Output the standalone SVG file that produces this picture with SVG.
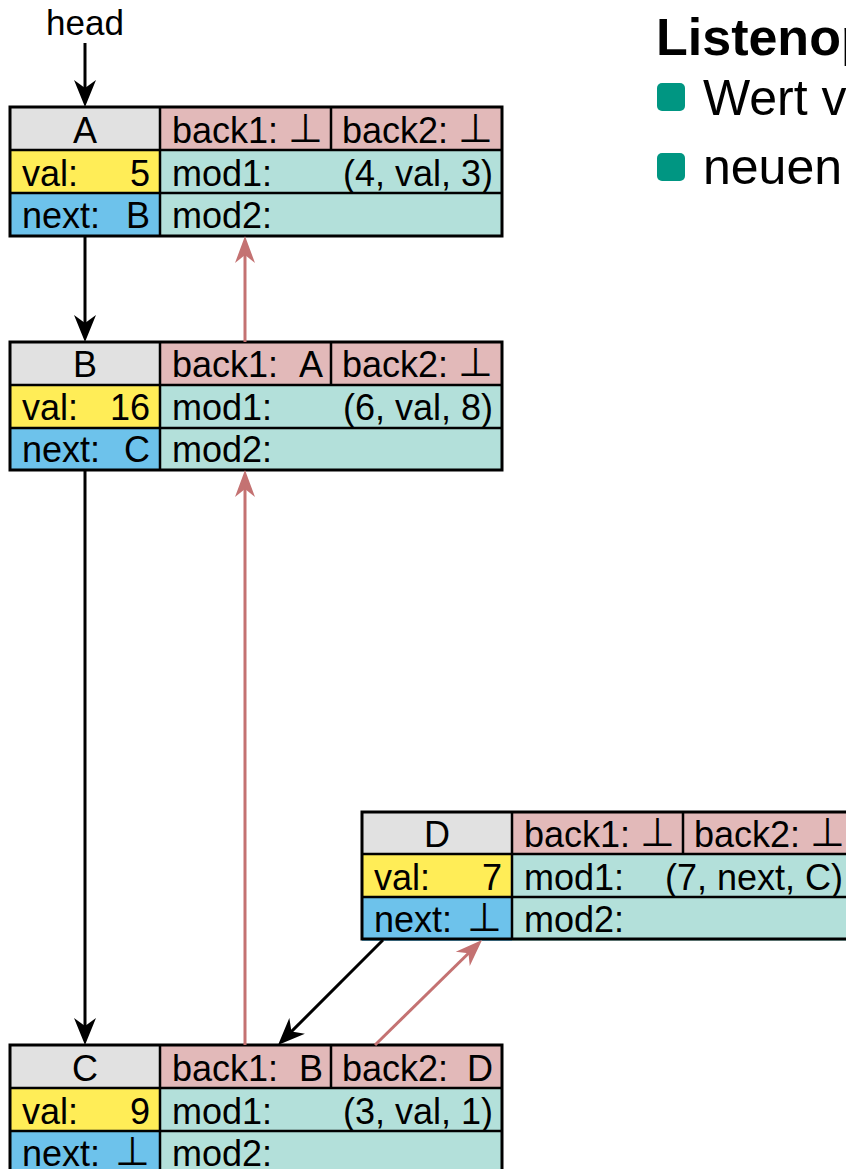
<svg xmlns="http://www.w3.org/2000/svg" width="846" height="1169" viewBox="0 0 846 1169">
<style>
text{font-family:"Liberation Sans","DejaVu Sans",Arial,sans-serif;font-size:36px;fill:#000}
.e{text-anchor:end}
.m{text-anchor:middle}
.bot{font-family:"DejaVu Sans",sans-serif;font-size:40px}
.hd{fill:#e1e1e1}
.bk{fill:#e2b9b9}
.vl{fill:#ffed57}
.nx{fill:#6dc2eb}
.md{fill:#b3e0da}
.dv{stroke:#000;stroke-width:2.5;fill:none}
.ob{stroke:#000;stroke-width:3;fill:none}
.cb{stroke:#000;stroke-width:3;fill:none;marker-end:url(#ab)}
.cr{stroke:#c47272;stroke-width:3;fill:none;marker-end:url(#ar)}
.title{font-size:52px;font-weight:bold}
.item{font-size:50px}
.bul{fill:#009682}
</style>
<defs>
<marker id="ab" markerUnits="userSpaceOnUse" viewBox="-30 -14 34 28" refX="-10" refY="0" markerWidth="34" markerHeight="28" orient="auto" overflow="visible"><path d="M0,0 L-27,-11 L-19,0 L-27,11 Z" fill="#000"/></marker>
<marker id="ar" markerUnits="userSpaceOnUse" viewBox="-30 -14 34 28" refX="-10" refY="0" markerWidth="34" markerHeight="28" orient="auto" overflow="visible"><path d="M0,0 L-27,-10 L-19,0 L-27,10 Z" fill="#c47272"/></marker>
</defs>

<g id="title">
<text class="title" x="656" y="55">Listenop</text>
<rect class="bul" x="657" y="83" width="28" height="28" rx="5"/>
<text class="item" x="703" y="115">Wert v</text>
<rect class="bul" x="657" y="153" width="28" height="28" rx="5"/>
<text class="item" x="703" y="184">neuen</text>
</g>

<g id="head"><text class="m" x="85" y="35" style="font-size:35px">head</text></g>

<g id="nodeA" transform="translate(10,107)">
<rect class="hd" x="0" y="0" width="150" height="43"/>
<rect class="bk" x="150" y="0" width="342" height="43"/>
<rect class="vl" x="0" y="43" width="150" height="43"/>
<rect class="md" x="150" y="43" width="342" height="86"/>
<rect class="nx" x="0" y="86" width="150" height="43"/>
<path class="dv" d="M150,0V129M321,0V43M0,43H492M0,86H492"/>
<rect class="ob" x="0" y="0" width="492" height="129"/>
<text class="m" x="75" y="36">A</text>
<text x="162" y="36">back1:</text><text class="e bot" x="313" y="35">⊥</text>
<text x="332" y="36">back2:</text><text class="e bot" x="483" y="35">⊥</text>
<text x="12" y="79">val:</text><text class="e" x="140" y="79">5</text>
<text x="162" y="79">mod1:</text><text class="e" x="483" y="79">(4, val, 3)</text>
<text x="12" y="121">next:</text><text class="e" x="140" y="121">B</text>
<text x="162" y="121">mod2:</text>
</g>

<g id="nodeB" transform="translate(10,342)">
<rect class="hd" x="0" y="0" width="150" height="43"/>
<rect class="bk" x="150" y="0" width="342" height="43"/>
<rect class="vl" x="0" y="43" width="150" height="43"/>
<rect class="md" x="150" y="43" width="342" height="86"/>
<rect class="nx" x="0" y="86" width="150" height="43"/>
<path class="dv" d="M150,0V129M321,0V43M0,43H492M0,86H492"/>
<rect class="ob" x="0" y="0" width="492" height="128"/>
<text class="m" x="75" y="35">B</text>
<text x="162" y="35">back1:</text><text class="e" x="313" y="35">A</text>
<text x="332" y="35">back2:</text><text class="e bot" x="483" y="34">⊥</text>
<text x="12" y="78">val:</text><text class="e" x="140" y="78">16</text>
<text x="162" y="78">mod1:</text><text class="e" x="483" y="78">(6, val, 8)</text>
<text x="12" y="120">next:</text><text class="e" x="140" y="120">C</text>
<text x="162" y="120">mod2:</text>
</g>

<g id="nodeD" transform="translate(362,812)">
<rect class="hd" x="0" y="0" width="150" height="43"/>
<rect class="bk" x="150" y="0" width="342" height="43"/>
<rect class="vl" x="0" y="43" width="150" height="43"/>
<rect class="md" x="150" y="43" width="342" height="86"/>
<rect class="nx" x="0" y="86" width="150" height="43"/>
<path class="dv" d="M150,0V127M321,0V43M0,42H492M0,85H492"/>
<rect class="ob" x="0" y="0" width="492" height="127"/>
<text class="m" x="75" y="35">D</text>
<text x="162" y="35">back1:</text><text class="e bot" x="313" y="34">⊥</text>
<text x="332" y="35">back2:</text><text class="e bot" x="483" y="34">⊥</text>
<text x="12" y="78">val:</text><text class="e" x="140" y="78">7</text>
<text x="162" y="78">mod1:</text><text class="e" x="481" y="78">(7, next, C)</text>
<text x="12" y="120">next:</text><text class="e bot" x="140" y="119">⊥</text>
<text x="162" y="120">mod2:</text>
</g>

<g id="nodeC" transform="translate(10,1045)">
<rect class="hd" x="0" y="0" width="150" height="43"/>
<rect class="bk" x="150" y="0" width="342" height="43"/>
<rect class="vl" x="0" y="43" width="150" height="43"/>
<rect class="md" x="150" y="43" width="342" height="86"/>
<rect class="nx" x="0" y="86" width="150" height="43"/>
<path class="dv" d="M150,0V129M321,0V43M0,43H492M0,86H492"/>
<rect class="ob" x="0" y="0" width="492" height="129"/>
<text class="m" x="75" y="36">C</text>
<text x="162" y="36">back1:</text><text class="e" x="313" y="36">B</text>
<text x="332" y="36">back2:</text><text class="e" x="483" y="36">D</text>
<text x="12" y="79">val:</text><text class="e" x="140" y="79">9</text>
<text x="162" y="79">mod1:</text><text class="e" x="483" y="79">(3, val, 1)</text>
<text x="12" y="121">next:</text><text class="e bot" x="140" y="120">⊥</text>
<text x="162" y="121">mod2:</text>
</g>

<g id="connectors">
<path class="cb" d="M85,43V97"/>
<path class="cb" d="M85,236V332"/>
<path class="cb" d="M85,470V1035"/>
<path class="cb" d="M383,940L285.1,1037.9"/>
<path class="cr" d="M245,1045V480"/>
<path class="cr" d="M245,342V246"/>
<path class="cr" d="M375,1045L474.9,947"/>
</g>
</svg>
